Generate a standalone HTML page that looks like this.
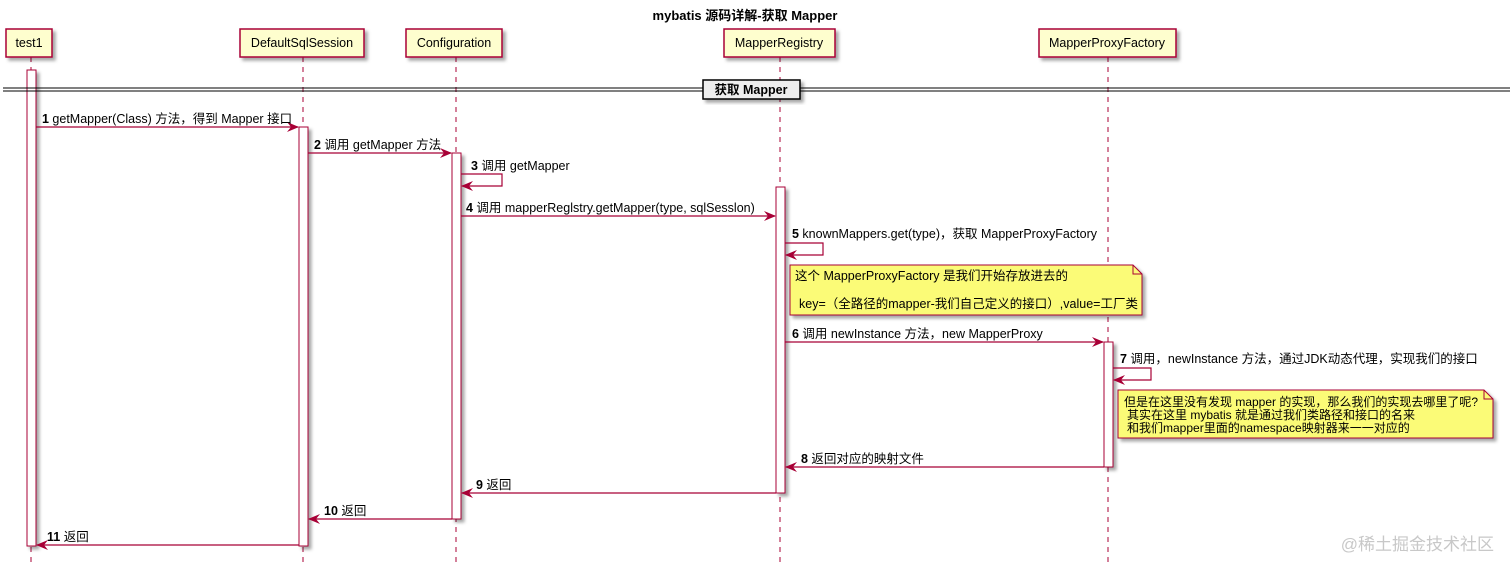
<!DOCTYPE html>
<html><head><meta charset="utf-8"><style>
body{margin:0;background:#fff}
svg text{font-family:"Liberation Sans","Noto Sans CJK SC",sans-serif;font-size:12.5px;fill:#000}
.b{font-weight:bold}
</style></head><body>
<svg width="1512" height="571" xmlns="http://www.w3.org/2000/svg">
<defs>
<filter id="sh" x="-20%" y="-20%" width="150%" height="150%"><feDropShadow dx="3" dy="3" stdDeviation="1.5" flood-color="#000" flood-opacity="0.35"/></filter>
<marker id="ar" viewBox="0 0 12 10" refX="11" refY="5" markerWidth="12" markerHeight="10" orient="auto" markerUnits="userSpaceOnUse"><path d="M0,0 L12,5 L0,10 L4,5 Z" fill="#A80036"/></marker>
</defs>
<text x="745" y="20" text-anchor="middle" class="b" style="font-size:13px">mybatis 源码详解-获取 Mapper</text>
<g stroke="#A80036" stroke-width="1" stroke-dasharray="5,5">
<line x1="31" y1="57" x2="31" y2="562"/><line x1="303" y1="57" x2="303" y2="562"/><line x1="456" y1="57" x2="456" y2="562"/><line x1="780" y1="57" x2="780" y2="562"/><line x1="1108" y1="57" x2="1108" y2="562"/>
</g>
<g fill="#FEFECE" stroke="#A80036" stroke-width="1.5" filter="url(#sh)">
<rect x="6" y="29" width="46" height="28"/><rect x="240" y="29" width="124" height="28"/><rect x="406" y="29" width="96" height="28"/><rect x="724" y="29" width="111" height="28"/><rect x="1039" y="29" width="137" height="28"/>
</g>
<g font-size="13"><text x="29" y="47" text-anchor="middle">test1</text><text x="302" y="47" text-anchor="middle">DefaultSqlSession</text><text x="454" y="47" text-anchor="middle">Configuration</text><text x="779" y="47" text-anchor="middle">MapperRegistry</text><text x="1107" y="47" text-anchor="middle">MapperProxyFactory</text></g>
<g fill="#fff" stroke="#A80036" stroke-width="1" filter="url(#sh)">
<rect x="27" y="70" width="9" height="476"/><rect x="299" y="127" width="9" height="419"/><rect x="452" y="153" width="9" height="366"/><rect x="776" y="187" width="9" height="306"/><rect x="1104" y="342" width="9" height="125"/>
</g>
<g stroke="#000" stroke-width="1"><line x1="3" y1="88" x2="1510" y2="88"/><line x1="3" y1="91" x2="1510" y2="91"/></g>
<rect x="703" y="80" width="97" height="19" fill="#EEE" stroke="#000" stroke-width="1.5" filter="url(#sh)"/>
<text x="751" y="94" text-anchor="middle" class="b">获取 Mapper</text>
<g stroke="#A80036" stroke-width="1.2" fill="none" marker-end="url(#ar)">
<line x1="36" y1="127" x2="298" y2="127"/>
<line x1="308" y1="153" x2="451" y2="153"/>
<path d="M461,174 H502 V186 H462"/>
<line x1="461" y1="216" x2="775" y2="216"/>
<path d="M785,243 H823 V255 H786"/>
<line x1="785" y1="342" x2="1103" y2="342"/>
<path d="M1113,368 H1151 V380 H1114"/>
<line x1="1104" y1="467" x2="786" y2="467"/>
<line x1="776" y1="493" x2="462" y2="493"/>
<line x1="452" y1="519" x2="309" y2="519"/>
<line x1="299" y1="545" x2="37" y2="545"/>
</g>
<text x="42" y="123"><tspan class="b">1</tspan> getMapper(Class) 方法，得到 Mapper 接口</text>
<text x="314" y="149"><tspan class="b">2</tspan> 调用 getMapper 方法</text>
<text x="471" y="170"><tspan class="b">3</tspan> 调用 getMapper</text>
<text x="466" y="212"><tspan class="b">4</tspan> 调用 mapperReglstry.getMapper(type, sqlSesslon)</text>
<text x="792" y="238"><tspan class="b">5</tspan> knownMappers.get(type)，获取 MapperProxyFactory</text>
<path d="M790,265 H1133 L1142,274 V315 H790 Z" fill="#FBFB77" stroke="#A80036" stroke-width="1" filter="url(#sh)"/>
<path d="M1133,265 V274 H1142" fill="none" stroke="#A80036"/>
<text x="795" y="280">这个 MapperProxyFactory 是我们开始存放进去的</text>
<text x="799" y="308">key=（全路径的mapper-我们自己定义的接口）,value=工厂类</text>
<text x="792" y="338"><tspan class="b">6</tspan> 调用 newInstance 方法，new MapperProxy</text>
<text x="1120" y="363"><tspan class="b">7</tspan> 调用，newInstance 方法，通过JDK动态代理，实现我们的接口</text>
<path d="M1118,390 H1484 L1493,399 V438 H1118 Z" fill="#FBFB77" stroke="#A80036" stroke-width="1" filter="url(#sh)"/>
<path d="M1484,390 V399 H1493" fill="none" stroke="#A80036"/>
<text x="1124" y="406" style="font-size:12px">但是在这里没有发现 mapper 的实现，那么我们的实现去哪里了呢?</text>
<text x="1127" y="419" style="font-size:12px">其实在这里 mybatis 就是通过我们类路径和接口的名来</text>
<text x="1127" y="432" style="font-size:12px">和我们mapper里面的namespace映射器来一一对应的</text>
<text x="801" y="463"><tspan class="b">8</tspan> 返回对应的映射文件</text>
<text x="476" y="489"><tspan class="b">9</tspan> 返回</text>
<text x="324" y="515"><tspan class="b">10</tspan> 返回</text>
<text x="47" y="541"><tspan class="b">11</tspan> 返回</text>
<text x="1494" y="550" text-anchor="end" style="font-size:17px;fill:#c8c8c8">@稀土掘金技术社区</text>
</svg>
</body></html>
